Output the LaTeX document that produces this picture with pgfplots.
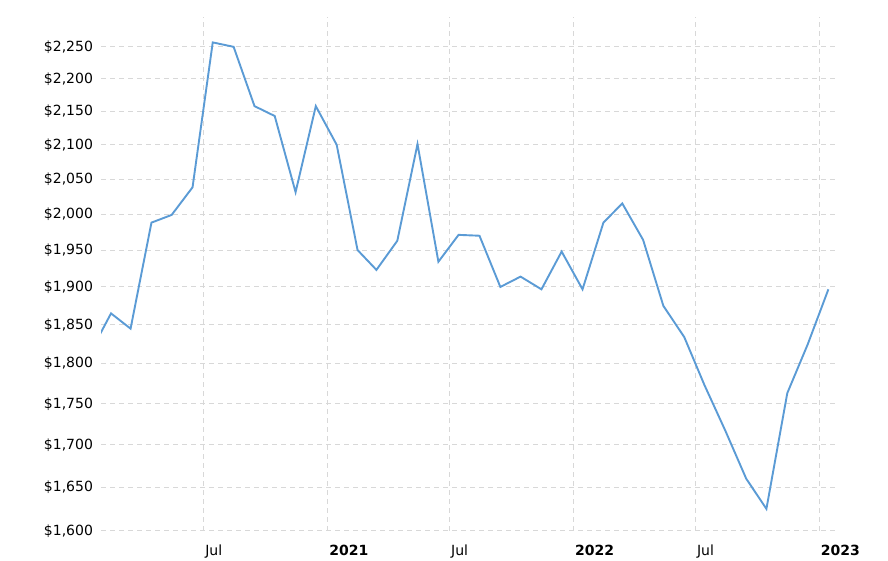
\documentclass[border=0pt]{standalone}
\usepackage{pgfplots}
\pgfplotsset{compat=1.18}
\usepackage{fontspec}
\setmainfont{DejaVu Sans}
\definecolor{lineblue}{HTML}{5B9BD5}
\definecolor{gridgray}{HTML}{D8D8D8}
\begin{document}
\begin{tikzpicture}[x=1pt,y=1pt]
\path[use as bounding box] (0,0) rectangle (888,560);
\begin{axis}[
    at={(101pt,29pt)}, anchor=south west,
    scale only axis, width=736pt, height=514pt,
    xmin=30.1, xmax=1122.8,
    ymode=log, ymin=1600, ymax=2298,
    % days since 1 Jan 2020
    xtick={182,366,547,731,912,1096},
    xticklabels={Jul,\textbf{2021},Jul,\textbf{2022},Jul,\textbf{2023}},
    ytick={1600,1650,1700,1750,1800,1850,1900,1950,2000,2050,2100,2150,2200,2250},
    yticklabels={{\$1,600},{\$1,650},{\$1,700},{\$1,750},{\$1,800},{\$1,850},{\$1,900},
                 {\$1,950},{\$2,000},{\$2,050},{\$2,100},{\$2,150},{\$2,200},{\$2,250}},
    xmajorgrids, ymajorgrids,
    major grid style={gridgray, dash pattern=on 5pt off 4pt, line width=0.9pt},
    axis line style={draw=none},
    major tick length=0pt,
    tick label style={font=\fontsize{14}{16}\selectfont},
    xticklabel style={anchor=north west, xshift=-1.5pt, yshift=-10.5pt},
    yticklabel style={xshift=-4.5pt},
]
\addplot[lineblue, line width=1.9pt, mark=none] coordinates {
    (14,1814) (45,1865) (74,1845) (105,1988) (135,1999) (166,2038)
    (196,2257) (227,2250) (258,2158) (288,2143) (319,2031) (349,2158)
    (380,2100) (411,1950) (439,1923) (470,1963) (500,2101) (531,1934)
    (561,1971) (592,1970) (623,1900) (653,1914) (684,1897) (714,1948)
    (745,1897) (776,1988) (804,2015) (835,1964) (865,1875) (896,1834)
    (926,1773) (957,1717) (988,1660) (1018,1625) (1049,1763) (1079,1824)
    (1110,1897)
};
\end{axis}
\end{tikzpicture}
\end{document}
